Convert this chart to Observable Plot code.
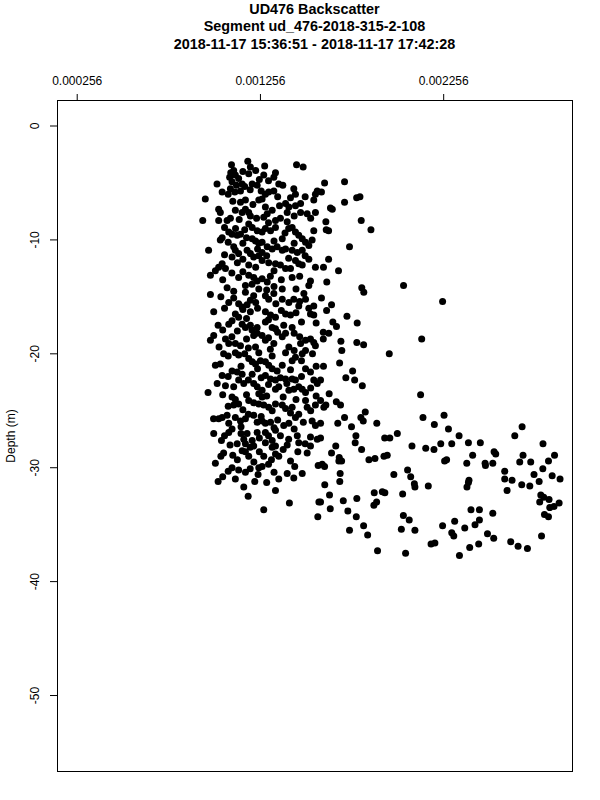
<!DOCTYPE html>
<html><head><meta charset="utf-8">
<script src="https://cdn.jsdelivr.net/npm/d3@7"></script>
<script src="https://cdn.jsdelivr.net/npm/@observablehq/plot@0.6"></script>
<style>
html,body{margin:0;padding:0;background:#fff;}
#title{width:600px;height:54px;box-sizing:border-box;padding:1px 0 0 29px;text-align:center;font-family:"Liberation Sans",Arial,Helvetica,sans-serif;font-weight:bold;font-size:14.4px;line-height:17.3px;color:#000;}
#chart svg{display:block}
</style></head><body>
<div id="title"></div>
<div id="chart"></div>
<script>
const titleLines = ["UD476 Backscatter", "Segment ud_476-2018-315-2-108", "2018-11-17 15:36:51 - 2018-11-17 17:42:28"];
const xTicks = [0.000256, 0.001256, 0.002256];
const xTickLabels = ["0.000256", "0.001256", "0.002256"];
const yTicks = [0, -10, -20, -30, -40, -50];
const yLabel = "Depth (m)";

const backscatter = [
0.001098,0.001187,0.001201,0.001279,0.001453,0.001489,0.001094,0.001119,0.001137,0.001088,
0.001192,0.001338,0.001329,0.001274,0.001101,0.001092,0.001116,0.001147,0.001156,0.001019,
0.001047,0.000955,0.001211,0.001238,0.001283,0.001301,0.001329,0.001247,0.001265,0.001356,
0.001378,0.001438,0.001447,0.001556,0.001566,0.001393,0.001411,0.001402,0.001447,0.001475,
0.001475,0.001511,0.001556,0.001547,0.001028,0.001037,0.001074,0.001092,0.001119,0.001156,
0.001174,0.001192,0.001201,0.001147,0.001174,0.001283,0.001293,0.001274,0.001338,0.001365,
0.001402,0.000941,0.001028,0.001192,0.001211,0.001238,0.001265,0.001283,0.001311,0.001338,
0.001429,0.001447,0.001465,0.001484,0.001502,0.001547,0.001083,0.001101,0.001129,0.001147,
0.001037,0.001047,0.001538,0.001211,0.001229,0.001247,0.001265,0.001293,0.001375,0.000973,
0.001119,0.001137,0.001101,0.001183,0.001201,0.001219,0.001247,0.001265,0.001320,0.001347,
0.001375,0.001393,0.001429,0.001457,0.001484,0.001520,0.001192,0.001265,0.001301,0.001338,
0.001365,0.001393,0.001447,0.001465,0.001484,0.001047,0.001028,0.001010,0.000983,0.001065,
0.001556,0.001137,0.001192,0.001219,0.001238,0.001265,0.001293,0.001429,0.001529,0.001074,
0.001174,0.001247,0.001375,0.001520,0.001606,0.001715,0.001781,0.001799,0.001715,0.001638,
0.001648,0.001613,0.001806,0.001615,0.001628,0.001859,0.001742,0.001628,0.001600,0.001682,
0.001618,0.001809,0.002037,0.001589,0.000983,0.001083,0.001137,0.001156,0.001183,0.001201,
0.001219,0.001174,0.001283,0.001301,0.001329,0.001375,0.001411,0.001438,0.001493,0.001502,
0.001465,0.001547,0.001001,0.001119,0.001137,0.001101,0.001083,0.001201,0.001283,0.001311,
0.001338,0.001393,0.001420,0.001429,0.001529,0.001547,0.001025,0.001156,0.001174,0.001201,
0.001238,0.001283,0.001320,0.001338,0.001383,0.001001,0.000983,0.001065,0.001083,0.001119,
0.001147,0.001219,0.001238,0.001265,0.001283,0.001329,0.001375,0.001393,0.001411,0.001475,
0.001502,0.001529,0.001547,0.001556,0.001119,0.001137,0.001229,0.001247,0.001055,0.001192,
0.001211,0.001229,0.001256,0.001283,0.001301,0.001320,0.001347,0.001375,0.001393,0.001429,
0.001447,0.001484,0.001502,0.001037,0.001101,0.001129,0.001156,0.001211,0.001283,0.001311,
0.001338,0.001365,0.001393,0.001429,0.001447,0.001502,0.001529,0.001547,0.001566,0.001047,
0.001137,0.001165,0.001219,0.001238,0.001265,0.001247,0.001265,0.001338,0.001356,0.001411,
0.001438,0.001465,0.001065,0.001484,0.001502,0.000970,0.001101,0.001119,0.001137,0.001110,
0.001192,0.001219,0.001247,0.001274,0.001301,0.001338,0.001375,0.001393,0.001429,0.001502,
0.001511,0.001556,0.001047,0.001028,0.001074,0.001119,0.001147,0.001174,0.001219,0.001238,
0.001265,0.001283,0.001311,0.001383,0.001411,0.001447,0.001465,0.001538,0.001556,0.001083,
0.001101,0.001820,0.002250,0.001589,0.001644,0.001617,0.001728,0.001651,0.001671,0.001784,
0.001599,0.001629,0.001599,0.001695,0.001782,0.001819,0.002136,0.001700,0.001959,0.001688,
0.001600,0.001759,0.001722,0.001770,0.001812,0.001584,0.001631,0.002130,0.001584,0.001670,
0.001693,0.001613,0.001602,0.001828,0.001715,0.001804,0.001817,0.002143,0.002258,0.001891,
0.002205,0.001678,0.001753,0.001584,0.001001,0.001083,0.001183,0.001238,0.001283,0.001338,
0.001365,0.001457,0.001465,0.001529,0.001566,0.001043,0.001129,0.001165,0.001174,0.001211,
0.001219,0.001283,0.001320,0.001338,0.001320,0.001402,0.001156,0.001174,0.001055,0.001105,
0.001192,0.001250,0.001274,0.001338,0.001356,0.001316,0.001529,0.001511,0.001010,0.001101,
0.001137,0.001174,0.001247,0.001265,0.001243,0.001443,0.001402,0.001438,0.001484,0.001571,
0.001025,0.001119,0.001225,0.001165,0.001356,0.001338,0.001189,0.001414,0.001575,0.001274,
0.001569,0.002003,0.001934,0.001962,0.001777,0.001773,0.001584,0.001667,0.001808,0.002083,
0.002158,0.002203,0.002240,0.001644,0.001686,0.001684,0.001699,0.001848,0.001881,0.001930,
0.001948,0.002261,0.001593,0.001606,0.001984,0.001691,0.001689,0.002059,0.002076,0.002096,
0.002099,0.002172,0.001607,0.001877,0.001921,0.001935,0.002032,0.001633,0.001584,0.001708,
0.001782,0.001875,0.001890,0.001637,0.001733,0.001779,0.002036,0.002068,0.001819,0.002250,
0.002025,0.002099,0.001742,0.001841,0.002187,0.002208,0.001895,0.002048,0.002684,0.002644,
0.002282,0.002340,0.002300,0.002391,0.002456,0.002798,0.002531,0.002540,0.002414,0.002689,
0.002861,0.002272,0.002382,0.002482,0.002484,0.002524,0.002671,0.002731,0.002828,0.002797,
0.002589,0.002749,0.002848,0.002891,0.002589,0.002629,0.002777,0.002394,0.002391,0.002383,
0.002682,0.002726,0.002602,0.002786,0.002802,0.002831,0.002780,0.002886,0.002858,0.002835,
0.002806,0.002828,0.002405,0.002451,0.002524,0.002316,0.002451,0.002427,0.002371,0.002300,
0.002311,0.002495,0.002529,0.002622,0.002662,0.002713,0.002790,0.002447,0.002398,0.002342
];

const depth = [
-3.4,-3.1,-3.6,-3.5,-3.4,-3.6,-4.1,-4.3,-4.6,-4.5,
-4.2,-4.1,-4.5,-4.3,-4.9,-5.5,-5.8,-5.7,-5.1,-5.1,
-5.8,-6.4,-5.1,-5.2,-6.0,-5.8,-5.7,-6.5,-6.4,-5.1,
-5.2,-5.5,-6.0,-6.0,-5.7,-6.8,-7.1,-7.6,-7.0,-6.8,
-7.6,-7.7,-7.6,-6.5,-7.3,-7.6,-8.3,-8.1,-7.4,-7.6,
-7.3,-7.6,-7.9,-6.7,-6.5,-7.1,-7.7,-8.0,-8.3,-8.1,
-8.4,-8.3,-8.3,-8.6,-8.9,-9.2,-9.3,-9.0,-9.2,-8.9,
-8.9,-9.3,-9.6,-9.9,-10.2,-9.2,-9.3,-9.5,-9.6,-9.5,
-10.0,-9.8,-10.0,-9.9,-10.1,-10.3,-10.2,-10.6,-9.9,-10.9,
-10.9,-11.2,-11.5,-10.9,-11.2,-11.5,-11.4,-11.1,-10.8,-10.6,
-10.9,-10.8,-10.9,-11.1,-10.9,-11.7,-12.2,-11.8,-12.0,-12.1,
-12.2,-12.5,-11.8,-12.1,-12.2,-12.1,-12.4,-12.7,-13.1,-12.5,
-12.4,-13.3,-13.1,-13.3,-13.6,-13.4,-13.7,-13.3,-13.6,-14.2,
-14.0,-14.3,-14.3,-14.0,-5.0,-4.9,-6.3,-6.2,-6.7,-7.2,
-7.3,-8.4,-8.3,-9.1,-9.2,-9.1,-10.6,-11.7,-12.4,-12.7,
-13.7,-14.2,-14.0,-5.8,-14.8,-15.5,-15.6,-15.9,-15.7,-15.3,
-14.9,-14.6,-14.9,-15.2,-14.7,-15.2,-15.5,-15.2,-14.7,-15.2,
-15.8,-15.8,-16.3,-16.5,-16.8,-17.1,-17.4,-16.3,-16.3,-16.6,
-16.8,-16.5,-16.6,-17.7,-16.5,-16.6,-17.5,-17.4,-17.7,-17.5,
-17.7,-17.2,-17.7,-17.8,-17.5,-18.4,-18.8,-18.7,-19.1,-19.1,
-19.3,-18.4,-18.2,-18.4,-18.8,-19.1,-18.5,-18.2,-19.4,-19.1,
-18.8,-18.7,-19.0,-19.3,-19.9,-20.1,-19.4,-19.9,-20.0,-20.4,
-20.7,-20.9,-20.6,-20.7,-21.0,-21.3,-21.5,-21.0,-19.9,-20.6,
-20.3,-20.0,-19.7,-20.9,-21.5,-21.6,-21.8,-21.8,-21.9,-22.2,
-22.3,-22.1,-22.2,-22.2,-22.3,-21.3,-21.6,-22.3,-22.6,-21.9,
-22.3,-22.6,-22.6,-22.9,-23.2,-23.5,-23.8,-23.1,-22.9,-23.2,
-23.1,-22.9,-22.8,-23.1,-23.4,-23.4,-23.8,-24.0,-24.4,-24.5,
-24.1,-24.3,-24.4,-24.5,-24.7,-24.4,-24.5,-24.8,-24.7,-24.1,
-24.7,-24.5,-25.6,-25.7,-25.4,-25.6,-25.9,-25.7,-25.4,-26.0,
-25.9,-26.1,-26.0,-26.3,-26.1,-25.6,-25.3,-25.9,-26.3,-26.1,
-26.6,-14.6,-15.4,-15.1,-15.7,-16.2,-16.7,-17.2,-17.6,-17.3,
-18.1,-18.2,-18.7,-18.9,-19.0,-19.2,-18.7,-19.7,-20.0,-20.8,
-21.1,-21.5,-22.1,-22.3,-22.8,-22.3,-23.5,-23.6,-24.1,-24.2,
-24.5,-24.5,-24.7,-25.1,-25.6,-25.6,-25.9,-25.6,-25.4,-26.1,
-26.2,-26.1,-26.4,-26.1,-27.0,-26.9,-27.0,-26.9,-26.9,-26.7,
-27.2,-27.2,-27.8,-27.3,-27.5,-27.6,-27.9,-27.5,-27.9,-27.6,
-28.1,-27.8,-27.6,-28.1,-28.2,-28.0,-28.5,-28.6,-28.7,-28.9,
-29.0,-28.6,-29.0,-28.8,-29.0,-29.3,-28.1,-28.7,-29.6,-30.0,
-30.2,-30.4,-30.0,-29.9,-30.6,-29.9,-30.5,-30.9,-30.5,-29.8,
-31.2,-31.0,-31.2,-31.7,-31.0,-32.0,-32.5,-33.1,-33.0,-33.7,
-34.3,-27.0,-27.4,-27.4,-27.2,-27.8,-27.4,-28.1,-28.4,-28.1,
-28.3,-28.4,-27.9,-28.7,-29.1,-29.4,-29.4,-29.3,-29.2,-29.0,
-28.9,-29.4,-29.7,-29.9,-30.6,-30.5,-31.2,-30.2,-30.8,-31.4,
-31.7,-31.6,-31.5,-32.2,-32.1,-32.2,-32.3,-32.4,-33.0,-32.9,
-32.7,-33.3,-33.0,-33.6,-33.8,-34.3,-34.2,-34.6,-35.1,-35.1,
-35.4,-35.5,-35.5,-35.9,-36.7,-36.6,-37.3,-37.5,-26.4,-27.2,
-26.6,-27.2,-27.9,-27.8,-27.8,-27.9,-28.6,-28.8,-28.9,-28.9,
-28.9,-29.3,-29.6,-29.6,-29.8,-29.6,-29.5,-29.5,-29.4,-30.1,
-30.3,-30.6,-30.7,-31.0,-31.0,-31.1,-31.2,-31.1,-31.3,-31.7,
-31.5,-31.6,-32.0,-32.4,-32.6,-32.8,-33.0,-33.1,-33.4,-33.5,
-34.1,-34.3,-33.7,-33.7,-34.0,-34.7,-34.6,-35.0,-35.3,-35.7,
-36.0,-35.8,-36.2,-36.5,-36.9,-37.1,-36.0,-36.7,-37.0,-37.7
];

// further readings inside the dense upper cluster
const denseBackscatter = [
0.001110,0.001160,0.001230,0.001250,0.001300,0.001170,0.001125,0.001200,0.001260,0.001350,
0.001420,0.001500,0.001080,0.001105,0.001215,0.001320,0.001360,0.001440,0.001530,0.001140,
0.001235,0.001300,0.001060,0.001120,0.001170,0.001390,0.001410,0.001080,0.001160,0.001180,
0.001330,0.001440,0.001520,0.001110,0.001240,0.001060,0.001160,0.001290,0.001410,0.001500,
0.001130,0.001230,0.001330,0.001420,0.001100,0.001160,0.001310,0.001370,0.001470,0.001050,
0.001210,0.001330,0.001450,0.001110,0.001290,
0.001040,0.001110,0.001230,0.001340,0.001470,0.001520,0.001060,0.001160,0.001240,0.001370,
0.001450,0.001180,0.001300,0.001480,0.001560,0.001050,0.001130,0.001210,0.001350,0.001440,
0.001100,0.001180,0.001300,0.001470,0.001030,0.001190,0.001310,0.001440,0.001540,0.001080,
0.001170,0.001320,0.001480,0.001010,0.001150,0.001240,0.001420,0.001560,0.001080,0.001190,
0.001260,0.001480,0.001020,0.001110,0.001300,0.001400,0.001530,0.001050,0.001180,0.001290,
0.001380,0.001450,0.001560,0.001080,0.001160,0.001320,0.001420,0.001530,0.001000,0.001190,
0.001260,0.001350,0.001490,0.001150,0.001330,0.001440,
0.001060,0.001150,0.001250,0.001300,0.001410,0.001500,0.001090,0.001200,0.001380,0.001460,
0.001040,0.001130,0.001220,0.001300,0.001420,0.001080,0.001200,0.001330,0.001050,0.001290
];
const denseDepth = [
-3.9,-4.0,-3.9,-4.7,-4.8,-5.3,-5.2,-5.6,-5.7,-6.2,
-6.3,-6.2,-6.0,-6.6,-6.9,-7.4,-7.0,-7.9,-8.1,-8.2,
-8.1,-8.5,-8.9,-9.0,-9.1,-9.4,-9.0,-10.2,-10.3,-9.8,
-10.1,-10.3,-10.5,-10.6,-10.8,-11.3,-11.7,-11.4,-11.6,-11.4,
-12.0,-12.4,-12.7,-12.5,-12.9,-12.8,-13.2,-13.5,-13.2,-13.5,
-13.9,-14.1,-14.3,-14.5,-14.4,
-15.0,-15.1,-15.5,-15.6,-15.4,-16.0,-16.0,-16.1,-16.0,-16.2,
-16.4,-16.9,-17.0,-17.2,-17.3,-17.9,-18.0,-17.9,-18.1,-18.2,
-18.5,-18.7,-18.6,-18.5,-19.4,-19.5,-19.6,-19.7,-20.0,-20.2,
-20.0,-20.2,-20.6,-21.0,-21.1,-21.3,-21.4,-21.1,-22.0,-22.3,
-22.1,-22.0,-22.6,-22.9,-22.7,-22.6,-23.0,-23.6,-23.6,-23.7,
-23.8,-24.0,-23.7,-24.6,-24.9,-25.0,-25.2,-25.0,-25.7,-25.3,
-25.5,-25.8,-26.0,-26.4,-26.5,-26.6,
-27.2,-27.0,-27.4,-27.2,-27.5,-27.9,-28.0,-28.2,-28.4,-28.6,
-29.0,-29.3,-29.5,-29.7,-29.4,-30.3,-30.1,-30.4,-30.8,-31.3
];

const xDomain = [0.0001484, 0.002959];
const yDomain = [-56.67, 2.24];

document.getElementById("title").innerHTML = titleLines.map(t => `<div>${t}</div>`).join("");

const points = backscatter.map((b, i) => ({b, d: depth[i]}))
  .concat(denseBackscatter.map((b, i) => ({b, d: denseDepth[i]})));
const font = '"Liberation Sans", Arial, Helvetica, sans-serif';

const chart = Plot.plot({
  width: 600,
  height: 746,
  marginTop: 46,
  marginBottom: 29,
  marginLeft: 57,
  marginRight: 28,
  style: {fontFamily: font, fontSize: "12px", background: "white", color: "black", overflow: "visible"},
  x: {domain: xDomain},
  y: {domain: yDomain},
  marks: [
    Plot.dot(points, {x: "b", y: "d", r: 3.5, fill: "black", stroke: "none"}),
    Plot.frame({stroke: "black", strokeWidth: 1}),
    Plot.axisX({anchor: "top", ticks: xTicks, tickSize: 7, tickFormat: () => "", label: null, stroke: "black", strokeWidth: 1}),
    Plot.axisY({anchor: "left", ticks: yTicks, tickSize: 7, tickFormat: () => "", label: null, stroke: "black", strokeWidth: 1}),
    Plot.text(xTicks, {x: d => d, frameAnchor: "top", dy: -19, text: (d, i) => xTickLabels[i], lineAnchor: "middle", textAnchor: "middle", fontSize: 12, fill: "black"}),
    Plot.text(yTicks, {y: d => d, frameAnchor: "left", dx: -22, rotate: -90, text: d => String(d), lineAnchor: "middle", textAnchor: "middle", fontSize: 12, fill: "black"}),
    Plot.text([yLabel], {frameAnchor: "left", dx: -46, rotate: -90, text: d => d, lineAnchor: "middle", textAnchor: "middle", fontSize: 12, fill: "black"})
  ]
});
document.getElementById("chart").appendChild(chart);
</script>
</body></html>
